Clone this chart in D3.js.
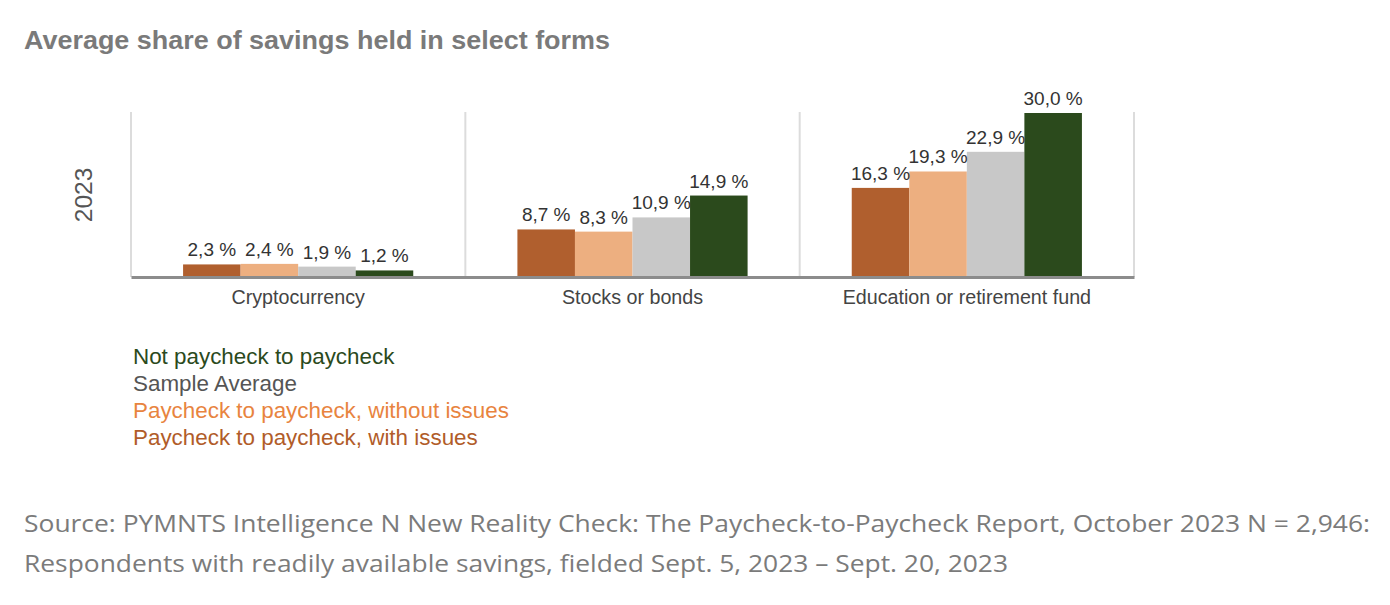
<!DOCTYPE html>
<html><head><meta charset="utf-8">
<script src="https://cdn.jsdelivr.net/npm/d3@7/dist/d3.min.js"></script>
<style>
html,body{margin:0;padding:0;background:#fff;}
svg{display:block;}
</style></head>
<body>
<svg id="chart" width="1390" height="605"></svg>
<script>
const categories = ["Cryptocurrency", "Stocks or bonds", "Education or retirement fund"];
const seriesNames = ["Paycheck to paycheck, with issues", "Paycheck to paycheck, without issues", "Sample Average", "Not paycheck to paycheck"];
const withIssues = [2.3, 8.7, 16.3];
const withoutIssues = [2.4, 8.3, 19.3];
const sampleAverage = [1.9, 10.9, 22.9];
const notP2P = [1.2, 14.9, 30.0];
const legendOrder = ["Not paycheck to paycheck", "Sample Average", "Paycheck to paycheck, without issues", "Paycheck to paycheck, with issues"];
const yearLabel = "2023";
const titleText = "Average share of savings held in select forms";
const sourceLines = [
  "Source: PYMNTS Intelligence N New Reality Check: The Paycheck-to-Paycheck Report, October 2023 N = 2,946:",
  "Respondents with readily available savings, fielded Sept. 5, 2023 \u2013 Sept. 20, 2023"
];

const seriesValues = [withIssues, withoutIssues, sampleAverage, notP2P];
const barColors = ["#b05f2e", "#edaf80", "#c8c8c8", "#2b4a1c"];
const legendColors = {
  "Not paycheck to paycheck": "#2b4a1c",
  "Sample Average": "#555555",
  "Paycheck to paycheck, without issues": "#e8843f",
  "Paycheck to paycheck, with issues": "#b15c29"
};
const SANS = "'Liberation Sans',Arial,Helvetica,sans-serif";

const svg = d3.select("#chart");

// Title
svg.append("text").attr("x", 24).attr("y", 49)
  .style("font-family", SANS)
  .attr("font-size", 26).attr("font-weight", "bold").attr("fill", "#7a7a7a")
  .attr("textLength", 586).attr("lengthAdjust", "spacingAndGlyphs")
  .text(titleText);

const x0 = d3.scaleBand().domain(categories).range([131, 1134]).paddingInner(0).paddingOuter(0);
const x1 = d3.scaleBand().domain(d3.range(seriesNames.length)).range([0, x0.bandwidth()]).paddingOuter(0.905).paddingInner(0);
const y = d3.scaleLinear().domain([0, 30]).range([277, 113]);

// vertical separators
const seps = categories.map(c => x0(c)).concat([x0.range()[1]]);
svg.append("g").selectAll("line").data(seps).join("line")
  .attr("x1", d => d).attr("x2", d => d).attr("y1", 112).attr("y2", 277)
  .attr("stroke", "#dcdcdc").attr("stroke-width", 2);

// bars
const groups = svg.append("g").selectAll("g").data(categories).join("g")
  .attr("transform", c => `translate(${x0(c)},0)`);

groups.each(function(c, ci) {
  const g = d3.select(this);
  const data = seriesValues.map((arr, si) => ({si, v: arr[ci]}));
  g.selectAll("rect").data(data).join("rect")
    .attr("x", d => x1(d.si)).attr("width", x1.bandwidth())
    .attr("y", d => y(d.v)).attr("height", d => y(0) - y(d.v))
    .attr("fill", d => barColors[d.si]);
  g.selectAll("text").data(data).join("text")
    .attr("x", d => x1(d.si) + x1.bandwidth() / 2)
    .attr("y", d => y(d.v) - 8)
    .style("font-family", SANS)
    .attr("text-anchor", "middle").attr("font-size", 19).attr("fill", "#333")
    .text(d => d.v.toFixed(1).replace(".", ",") + " %");
});

// baseline axis
const xAxis = d3.axisBottom(x0).tickSize(0).tickPadding(13);
const ax = svg.append("g").attr("transform", "translate(0,277)").call(xAxis);
ax.select(".domain").attr("stroke", "#8c8c8c").attr("stroke-width", 3);
ax.selectAll("text").attr("font-size", 19.7).attr("fill", "#444")
  .style("font-family", SANS);

// year label
svg.append("text").attr("transform", "translate(92,195) rotate(-90)")
  .style("font-family", SANS)
  .attr("text-anchor", "middle").attr("font-size", 24.5).attr("fill", "#555")
  .text(yearLabel);

// legend
svg.append("g").selectAll("text").data(legendOrder).join("text")
  .attr("x", 133).attr("y", (d, i) => 364 + i * 27)
  .style("font-family", SANS)
  .attr("font-size", 22.4).attr("fill", d => legendColors[d])
  .text(d => d);

// source
const srcW = [1346, 984];
svg.append("g").selectAll("text").data(sourceLines).join("text")
  .attr("x", 24).attr("y", (d, i) => 532 + i * 40)
  .style("font-family", "'Open Sans','Noto Sans',sans-serif")
  .attr("font-size", 23).attr("fill", "#7b7b7b")
  .attr("textLength", (d, i) => srcW[i]).attr("lengthAdjust", "spacingAndGlyphs")
  .text(d => d);
</script>
</body></html>
